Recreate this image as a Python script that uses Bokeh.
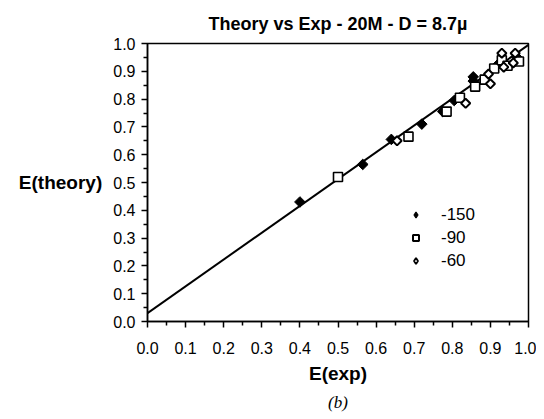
import math
from bokeh.plotting import figure
from bokeh.models import Range1d, FixedTicker, Legend, LegendItem, Title
from bokeh.embed import file_html
from bokeh.resources import INLINE

# ---- data ----
fit_x = [0.0, 1.0]
fit_y = [0.03, 0.995]

m150_x = [0.40, 0.565, 0.64, 0.72, 0.775, 0.805, 0.855, 0.855, 0.92, 0.97]
m150_y = [0.43, 0.565, 0.655, 0.71, 0.755, 0.795, 0.88, 0.865, 0.925, 0.95]

m90_x = [0.50, 0.685, 0.785, 0.82, 0.86, 0.885, 0.91, 0.93, 0.945, 0.975]
m90_y = [0.52, 0.665, 0.755, 0.805, 0.845, 0.87, 0.91, 0.94, 0.92, 0.935]

m60_x = [0.655, 0.835, 0.895, 0.90, 0.93, 0.935, 0.965, 0.96]
m60_y = [0.65, 0.785, 0.89, 0.855, 0.965, 0.915, 0.965, 0.93]

series_names = ["-150", "-90", "-60"]

ticks = [0.0, 0.1, 0.2, 0.3, 0.4, 0.5, 0.6, 0.7, 0.8, 0.9, 1.0]
minor = [0.05, 0.15, 0.25, 0.35, 0.45, 0.55, 0.65, 0.75, 0.85, 0.95]
tick_labels = {t: f"{t:.1f}" for t in ticks}

FONT = "Liberation Sans"

p = figure(width=536, height=419, output_backend="svg", toolbar_location=None,
           x_range=Range1d(0, 1), y_range=Range1d(0, 1),
           min_border_left=147, min_border_right=8, min_border_top=43, min_border_bottom=98)
p.grid.visible = False
p.outline_line_color = "black"
p.outline_line_width = 1.5
p.background_fill_color = "white"
p.border_fill_color = "white"

p.title.text = "Theory vs Exp - 20M - D = 8.7\u00b5"
p.title.align = "center"
p.title.text_font = FONT
p.title.text_font_size = "18px"
p.title.text_font_style = "bold"
p.title.text_color = "black"
p.title.standoff = 20

for ax in (p.xaxis, p.yaxis):
    ax.ticker = FixedTicker(ticks=ticks, minor_ticks=minor)
    ax.major_label_overrides = tick_labels
    ax.axis_line_color = "black"
    ax.axis_line_width = 1.5
    ax.major_tick_line_color = "black"
    ax.major_tick_line_width = 1.5
    ax.minor_tick_line_color = "black"
    ax.minor_tick_line_width = 1.5
    ax.major_tick_in = 0
    ax.major_tick_out = 6
    ax.minor_tick_in = 0
    ax.minor_tick_out = 4
    ax.major_label_text_font = FONT
    ax.major_label_text_font_size = "16px"
    ax.major_label_text_color = "black"
    ax.axis_label_text_font = FONT
    ax.axis_label_text_font_size = "19px"
    ax.axis_label_text_font_style = "bold"
    ax.axis_label_text_color = "black"
p.xaxis.major_label_standoff = 14
p.yaxis.major_label_standoff = 6
p.xaxis.axis_label = "E(exp)"
p.xaxis.axis_label_standoff = 6
p.yaxis.axis_label = "E(theory)"
p.yaxis.axis_label_orientation = "horizontal"
p.yaxis.axis_label_standoff = 8

p.add_layout(Title(text="(b)", align="center", text_font="Liberation Serif",
                   text_font_size="17px", text_font_style="italic",
                   text_color="black", standoff=8), "below")

p.line(fit_x, fit_y, line_color="black", line_width=2)

ang = math.pi / 4
r150 = p.scatter(m150_x, m150_y, marker="square", angle=ang, size=7.5, fill_color="black",
                 line_color="black", line_width=1)
r90 = p.scatter(m90_x, m90_y, marker="square", size=9, fill_color="white",
                line_color="black", line_width=1.6)
r60 = p.scatter(m60_x, m60_y, marker="square", angle=ang, size=6.5, fill_color="white",
                line_color="black", line_width=2)

# legend swatches: the legend ignores marker angle, so use diamond-shaped swatches
# from proxy renderers that hold no drawable point (NaN)
nan = [float("nan")]
k150 = p.scatter(nan, nan, marker="diamond", fill_color="black",
                 line_color="black", line_width=1.2)
k90 = p.scatter(nan, nan, marker="square", fill_color="white",
                line_color="black", line_width=2)
k60 = p.scatter(nan, nan, marker="diamond", fill_color="white",
                line_color="black", line_width=1.8)

legend = Legend(items=[LegendItem(label=series_names[0], renderers=[k150]),
                       LegendItem(label=series_names[1], renderers=[k90]),
                       LegendItem(label=series_names[2], renderers=[k60])],
                location=(261, 49), orientation="vertical",
                glyph_width=15, glyph_height=15, label_height=23,
                label_standoff=18, spacing=0, padding=0, margin=0,
                border_line_color=None, background_fill_alpha=0,
                label_text_font=FONT, label_text_font_size="17px",
                label_text_color="black")
p.add_layout(legend, "center")

open("out.html", "w").write(file_html(p, INLINE))
